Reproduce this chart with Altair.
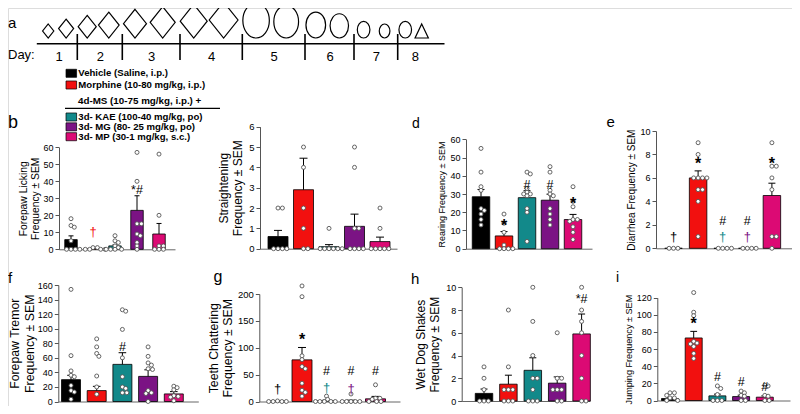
import altair as alt
import numpy as np
import pandas as pd

W, H = 784, 398
M = 8  # page margin: layout numbers below are page pixels, shifted by M
FONT = "Liberation Sans"

# ------------------------------------------------------------------ data
groups = ["Vehicle", "Morphine", "KAE", "MG", "MP"]
group_colors = ["#000000", "#f2100f", "#12898a", "#7b1384", "#dc0a74"]

legend_top = ["Vehicle (Saline, i.p.)", "Morphine (10-80 mg/kg, i.p.)"]
legend_header = "4d-MS (10-75 mg/kg, i.p.) +"
legend_bottom = ["3d- KAE (100-40 mg/kg, po)", "3d- MG (80- 25 mg/kg, po)",
                 "3d- MP (30-1 mg/kg, s.c.)"]

# panel a : dosing schedule
day_numbers = [1, 2, 3, 4, 5, 6, 7, 8]
sched_day = [1, 1, 2, 2, 3, 3, 4, 4, 5, 5, 6, 6, 7, 7, 8, 8]
sched_slot = [0, 1] * 8
sched_kind = ["morphine"] * 8 + ["ms"] * 7 + ["test"]
sched_dose = [10, 20, 30, 40, 50, 60, 70, 80, 75, 65, 40, 35, 15, 10, 15, 10]

# panels b-i : mean, SEM, individual animals, annotations
b_mean = [5.7, 0.3, 2.0, 22.9, 9.0]
b_sem = [2.2, 0.3, 0.6, 8.6, 6.2]
b_points = [[18, 14, 13, 5, 0, 0, 0, 0], [1, 1, 0, 0, 0, 0], [8, 5, 4, 2, 1, 0, 0, 0, 0],
            [57, 40, 15, 15, 9, 8, 4, 2, 0], [56, 20, 2, 2, 0, 0, 0]]
b_sym = ["", "", "", "*#", ""]
b_sym_y = [0, 0, 0, 35, 0]
b_dag = ["", "†", "", "", ""]
b_dag_y = [0, 10, 0, 0, 0]

c_mean = [0.6, 2.9, 0.1, 1.1, 0.35]
c_sem = [0.3, 1.55, 0.1, 0.6, 0.22]
c_points = [[2, 2, 0, 0, 0, 0], [5, 4, 2, 1, 0, 0], [1, 0, 0, 0, 0, 0, 0],
            [5, 4, 1, 1, 0, 0, 0, 0], [2, 1, 0, 0, 0, 0, 0]]

d_mean = [28.5, 7.0, 28.0, 26.6, 16.0]
d_sem = [4.0, 2.4, 3.8, 3.3, 2.8]
d_points = [[55, 42, 34, 32, 22, 21, 19, 16, 13], [19, 14, 9, 2, 0, 0, 0, 0],
            [42, 41, 33, 31, 30, 30, 29, 22, 20, 4], [45, 42, 32, 30, 29, 22, 19, 16, 13],
            [34, 26, 23, 16, 16, 15, 12, 9, 5]]
d_sym = ["", "*", "#", "#", "*"]
d_sym_y = [0, 14.5, 35, 35, 26.5]

e_mean = [0, 6.0, 0, 0, 4.5]
e_sem = [0, 0.6, 0, 0, 1.05]
e_points = [[0, 0, 0], [9, 8, 6, 6, 6, 6, 5, 5, 4, 1], [0, 0, 0, 0], [0, 0, 0, 0],
            [9, 7, 7, 6, 5, 1, 1, 0]]
e_sym = ["", "*", "#", "#", "*"]
e_sym_y = [0, 7.5, 2.35, 2.35, 7.5]
e_dag = ["†", "", "†", "†", ""]
e_dag_y = [0.95, 0, 0.95, 0.95, 0]

f_mean = [30, 15, 51, 34.5, 10.4]
f_sem = [6, 5.8, 16, 9, 3.2]
f_points = [[154, 63, 42, 36, 34, 22, 15, 13, 3], [86, 75, 66, 62, 35, 20, 10],
            [126, 124, 99, 60, 34, 20, 18, 12, 12], [75, 62, 53, 50, 45, 44, 15, 12, 11, 0],
            [21, 19, 16, 8, 7, 6, 1]]
f_sym = ["", "", "#", "", ""]
f_sym_y = [0, 0, 75, 0, 0]

g_mean = [0.5, 77.5, 1.5, 1.0, 5.0]
g_sem = [0.5, 23, 1.0, 1.5, 4.5]
g_points = [[1, 0, 0, 0, 0], [215, 195, 85, 78, 65, 61, 34, 21, 17, 10], [10, 4, 0, 0, 0, 0, 0],
            [14, 0, 0, 0, 0, 0], [31, 6, 6, 4, 0, 0, 0]]
g_sym = ["", "*", "#", "#", "#"]
g_sym_y = [0, 122, 57, 57, 56]
g_dag = ["†", "", "†", "†", ""]
g_dag_y = [23, 0, 25, 23, 0]

h_mean = [0.67, 1.48, 2.7, 1.57, 5.9]
h_sem = [0.38, 0.79, 1.1, 0.55, 1.75]
h_points = [[3, 2, 1, 0, 0, 0], [8, 3, 1, 1, 1, 0, 0, 0], [10, 7, 4, 2, 2, 1, 0, 0, 0],
            [6, 2, 2, 1, 1, 1, 0, 0], [10, 8, 7, 6, 4, 2, 0, 0]]
h_sym = ["", "", "", "", "*#"]
h_sym_y = [0, 0, 0, 0, 8.95]

i_mean = [2.3, 73.0, 5.4, 4.6, 3.9]
i_sem = [1.0, 7.7, 2.0, 1.6, 1.5]
i_points = [[9, 9, 6, 3, 3, 0, 0], [126, 103, 99, 69, 67, 66, 63, 55, 49], [17, 14, 7, 0, 0, 0],
            [11, 9, 6, 5, 0, 0], [18, 17, 6, 5, 0, 0]]
i_sym = ["", "*", "#", "#", "#"]
i_sym_y = [0, 94, 28, 21.5, 16]

EMPTY = ["", "", "", "", ""]
ZERO = [0, 0, 0, 0, 0]

PANELS = {
    "b": dict(title=["Forepaw Licking", "Frequency ± SEM"], mean=b_mean, sem=b_sem, pts=b_points,
              sym=b_sym, sym_y=b_sym_y, dag=b_dag, dag_y=b_dag_y),
    "c": dict(title=["Straightening", "Frequency ± SEM"], mean=c_mean, sem=c_sem, pts=c_points,
              sym=EMPTY, sym_y=ZERO, dag=EMPTY, dag_y=ZERO),
    "d": dict(title="Rearing Frequency ± SEM", mean=d_mean, sem=d_sem, pts=d_points,
              sym=d_sym, sym_y=d_sym_y, dag=EMPTY, dag_y=ZERO),
    "e": dict(title="Diarrhea Frequency ± SEM", mean=e_mean, sem=e_sem, pts=e_points,
              sym=e_sym, sym_y=e_sym_y, dag=e_dag, dag_y=e_dag_y),
    "f": dict(title=["Forepaw Tremor", "Frequency ± SEM"], mean=f_mean, sem=f_sem, pts=f_points,
              sym=f_sym, sym_y=f_sym_y, dag=EMPTY, dag_y=ZERO),
    "g": dict(title=["Teeth Chattering", "Frequency ± SEM"], mean=g_mean, sem=g_sem, pts=g_points,
              sym=g_sym, sym_y=g_sym_y, dag=g_dag, dag_y=g_dag_y),
    "h": dict(title=["Wet Dog Shakes", "Frequency ± SEM"], mean=h_mean, sem=h_sem, pts=h_points,
              sym=h_sym, sym_y=h_sym_y, dag=EMPTY, dag_y=ZERO),
    "i": dict(title="Jumping Frequency ± SEM", mean=i_mean, sem=i_sem, pts=i_points,
              sym=i_sym, sym_y=i_sym_y, dag=EMPTY, dag_y=ZERO),
}

# ------------------------------------------------------------------ layout (page pixels)
LAYOUT = {
    "b": dict(ax=59, c0=71, sp=22, xe=175, bw=12.5, y0=249.3, yt=147.3, ymax=60, step=10, tfs=10.3, lfs=9, tpad=2),
    "c": dict(ax=260, c0=278, sp=25.5, xe=397, bw=20, y0=248.7, yt=126.7, ymax=6, step=1, tfs=12, lfs=9.5, tpad=4),
    "d": dict(ax=466, c0=481, sp=23, xe=592, bw=17.5, y0=248.7, yt=139.3, ymax=60, step=10, tfs=9, lfs=9, tpad=3),
    "e": dict(ax=656, c0=673.5, sp=24.6, xe=795, bw=17.5, y0=248.3, yt=131, ymax=10, step=2, tfs=10, lfs=9, tpad=3),
    "f": dict(ax=58.3, c0=71, sp=25.7, xe=198.3, bw=19, y0=401.5, yt=285, ymax=160, step=20, tfs=12.3, lfs=9, tpad=1),
    "g": dict(ax=259.3, c0=277.5, sp=24.5, xe=400, bw=20, y0=401.5, yt=294, ymax=200, step=50, tfs=12.3, lfs=9.5, tpad=3),
    "h": dict(ax=461.7, c0=484, sp=24.4, xe=590, bw=17.5, y0=401, yt=287.3, ymax=10, step=2, tfs=12, lfs=9, tpad=4),
    "i": dict(ax=657.3, c0=670, sp=23.7, xe=790, bw=17, y0=400.5, yt=297.7, ymax=120, step=20, tfs=9.1, lfs=9, tpad=3),
}

AXIS_STYLE = dict(domainColor="#555", tickColor="#555", labelColor="black", titleColor="black",
                  grid=False, labelFont=FONT, titleFont=FONT, titleFontWeight="normal",
                  domainWidth=1, tickWidth=1)

color_enc = alt.Color("group:N", scale=alt.Scale(domain=groups, range=group_colors), legend=None)


def swarm(vals, ypx, min_d=3.4, step=1.1):
    placed, out = [], []
    for v in vals:
        py = ypx(v)
        found = 0.0
        for k in range(80):
            j = (k + 1) // 2
            dx = 0.0 if k == 0 else (j * step if k % 2 else -j * step)
            if all((dx - qx) ** 2 + (py - qy) ** 2 >= min_d ** 2 for qx, qy in placed):
                found = dx
                break
        placed.append((found, py))
        out.append(found)
    return out


def panel_layers(key):
    P, L = PANELS[key], LAYOUT[key]
    ax = L["ax"] - M
    xe = min(L["xe"] - M, W)
    c0 = L["c0"] - M
    sp = L["sp"]
    y0, yt, ymax = L["y0"] - M, L["yt"] - M, L["ymax"]
    xs = alt.Scale(domain=[(ax - c0) / sp, (xe - c0) / sp], range=[ax, xe], nice=False, zero=False)
    ys = alt.Scale(domain=[0, ymax], range=[y0, yt], nice=False, zero=False)
    half = L["bw"] / sp / 2

    bars = pd.DataFrame({"idx": list(range(5)), "group": groups, "mean": P["mean"], "sem": P["sem"]})
    bars["top"] = bars["mean"] + bars["sem"]
    bars["lo"] = bars["idx"] - half
    bars["hi"] = bars["idx"] + half
    bars["clo"] = bars["idx"] - half * 0.4
    bars["chi"] = bars["idx"] + half * 0.4
    bars["base"] = 0.0

    ticks = [float(v) for v in np.arange(0, ymax + 1e-9, L["step"])]
    yaxis = alt.Axis(orient="left", offset=-ax, values=ticks, title=P["title"], tickSize=4,
                     labelPadding=2, titlePadding=L["tpad"], labelFontSize=L["lfs"],
                     titleFontSize=L["tfs"], **AXIS_STYLE)
    xaxis = alt.Axis(orient="bottom", offset=y0 - H, ticks=False, labels=False, title=None,
                     grid=False, domainColor="#666", domainWidth=1)

    layers = []
    layers.append(alt.Chart(bars).mark_rect(stroke="black", strokeWidth=0.8).encode(
        x=alt.X("lo:Q", scale=xs, axis=xaxis), x2="hi:Q",
        y=alt.Y("mean:Q", scale=ys, axis=yaxis), y2="base:Q", color=color_enc))

    err = bars[bars["sem"] > 0]
    layers.append(alt.Chart(err).mark_rule(color="black", strokeWidth=1).encode(
        x=alt.X("idx:Q", scale=xs, axis=None),
        y=alt.Y("mean:Q", scale=ys, axis=None), y2="top:Q"))
    layers.append(alt.Chart(err).mark_rule(color="black", strokeWidth=1).encode(
        x=alt.X("clo:Q", scale=xs, axis=None), x2="chi:Q",
        y=alt.Y("top:Q", scale=ys, axis=None)))

    def ypx(v):
        return y0 - v / ymax * (y0 - yt)

    rows = []
    for gi, vals in enumerate(P["pts"]):
        offs = swarm(vals, ypx)
        for v, o in zip(vals, offs):
            rows.append({"idx": gi, "value": v, "xj": gi + o / sp})
    pts = pd.DataFrame(rows)
    layers.append(alt.Chart(pts).mark_circle(fill="white", stroke="#555", strokeWidth=0.9,
                                             size=16, opacity=1).encode(
        x=alt.X("xj:Q", scale=xs, axis=None), y=alt.Y("value:Q", scale=ys, axis=None)))

    ann = pd.DataFrame({"idx": list(range(5)), "group": groups, "sym": P["sym"], "sy": P["sym_y"],
                        "dag": P["dag"], "dy": P["dag_y"]})
    star = ann[ann["sym"] == "*"]
    other = ann[(ann["sym"] != "") & (ann["sym"] != "*")]
    dag = ann[ann["dag"] != ""]
    if len(star):
        layers.append(alt.Chart(star).mark_text(font=FONT, fontSize=16, fontWeight="bold",
                                                baseline="middle", align="center", color="black",
                                                dy=4).encode(
            x=alt.X("idx:Q", scale=xs, axis=None), y=alt.Y("sy:Q", scale=ys, axis=None),
            text="sym:N"))
    if len(other):
        layers.append(alt.Chart(other).mark_text(font=FONT, fontSize=12.5, baseline="middle",
                                                 align="center", color="black").encode(
            x=alt.X("idx:Q", scale=xs, axis=None), y=alt.Y("sy:Q", scale=ys, axis=None),
            text="sym:N"))
    if len(dag):
        layers.append(alt.Chart(dag).mark_text(font=FONT, fontSize=13, baseline="middle",
                                               align="center").encode(
            x=alt.X("idx:Q", scale=xs, axis=None), y=alt.Y("dy:Q", scale=ys, axis=None),
            text="dag:N", color=color_enc))
    return layers


# ------------------------------------------------------------------ panel a
TL_DOMAIN = [0.4, 0.5, 1.5, 2.5, 3.5, 4.5, 5.5, 6.5, 7.5, 8.5, 8.85]
TL_RANGE = [v - M for v in [36.3, 40, 77.3, 122.3, 180, 242.3, 305, 354, 397.7, 432, 444]]
tl_scale = alt.Scale(domain=TL_DOMAIN, range=TL_RANGE, nice=False, zero=False)
TL_Y = 43.3 - M

DIAMOND = "M0,-2L0.8,-1L0,0L-0.8,-1Z"
ELLIPSE = "M-0.76,-1A0.76,1,0,1,0,0.76,-1A0.76,1,0,1,0,-0.76,-1Z"
TRIANGLE = "M0,-2L0.95,0L-0.95,0Z"
SQUARE = "M-1,-0.76L1,-0.76L1,0.76L-1,0.76Z"

sched = pd.DataFrame({"day": sched_day, "slot": sched_slot, "kind": sched_kind, "dose": sched_dose})
sched["pos"] = sched["day"] + np.where(sched["slot"] == 0, -0.28, 0.2)

tl_axis = alt.Axis(orient="bottom", offset=TL_Y - H, values=day_numbers, ticks=False, labelPadding=7,
                   labelFontSize=13, labelFont=FONT, labelColor="black", domainColor="black",
                   domainWidth=1.6, title=None, labelFlush=False, grid=False)

shapes = alt.Chart(sched).mark_point(filled=False, stroke="black", strokeWidth=1.2, opacity=1).encode(
    x=alt.X("pos:Q", scale=tl_scale, axis=tl_axis),
    y=alt.value(38 - M),
    shape=alt.Shape("kind:N", scale=alt.Scale(domain=["morphine", "ms", "test"],
                                               range=[DIAMOND, ELLIPSE, TRIANGLE]), legend=None),
    size=alt.Size("dose:Q", scale=alt.Scale(domain=[10, 80], range=[196, 1296]), legend=None))

bounds = pd.DataFrame({"b": [d + 0.5 for d in day_numbers[:-1]]})
day_ticks = alt.Chart(bounds).mark_rule(color="black", strokeWidth=1.6).encode(
    x=alt.X("b:Q", scale=tl_scale, axis=None), y=alt.value(34 - M), y2=alt.value(60 - M))


def text_at(txt, x, y, size, weight="normal", align="left", baseline="alphabetic"):
    return alt.Chart(pd.DataFrame({"t": [txt]})).mark_text(
        font=FONT, fontSize=size, fontWeight=weight, align=align, baseline=baseline,
        color="black").encode(x=alt.value(x), y=alt.value(y), text="t:N")


# ------------------------------------------------------------------ legend
leg_top = pd.DataFrame({"label": legend_top, "group": groups[:2]})
leg_bot = pd.DataFrame({"label": legend_bottom, "group": groups[2:]})


def legend_block(df, domain, rng):
    ysc = alt.Y("label:N", scale=alt.Scale(domain=domain, range=rng, padding=0), axis=None)
    sq = alt.Chart(df).mark_point(shape=SQUARE, filled=True, size=112, stroke="black",
                                  strokeWidth=0.7, opacity=1).encode(
        x=alt.value(71.3 - M), y=ysc, color=color_enc)
    tx = alt.Chart(df).mark_text(font=FONT, fontSize=9.6, fontWeight="bold", align="left",
                                 baseline="middle", color="black").encode(
        x=alt.value(78.3 - M), y=ysc, text="label:N")
    return [sq, tx]


header = text_at(legend_header, 78 - M, 100.5 - M, 9.8, weight="bold", baseline="middle")
header_line = alt.Chart(pd.DataFrame({"t": [legend_header]})).mark_rule(
    color="black", strokeWidth=1.3).encode(
    x=alt.value(65 - M), x2=alt.value(220 - M), y=alt.value(108.3 - M))

letters = [
    text_at("a", 0, 28.3 - M, 15), text_at("b", 0, 128.3 - M, 18),
    text_at("d", 412 - M, 128.3 - M, 14), text_at("e", 606.5 - M, 127 - M, 15),
    text_at("f", 0, 282.7 - M, 15), text_at("g", 213.5 - M, 282 - M, 16),
    text_at("h", 411 - M, 284.3 - M, 15), text_at("i", 616 - M, 281.7 - M, 14),
    text_at("Day:", 0, 59 - M, 13),
]

layers = [day_ticks, shapes]
layers += legend_block(leg_top, legend_top, [73.3 - M, 85 - M])
layers += [header, header_line]
layers += legend_block(leg_bot, legend_bottom, [117 - M, 136.7 - M])
for k in ["b", "c", "d", "e", "f", "g", "h", "i"]:
    layers += panel_layers(k)
layers += letters

chart = alt.layer(*layers).resolve_scale(
    x="independent", y="independent", color="independent", shape="independent", size="independent"
).resolve_axis(x="independent", y="independent").properties(
    width=W, height=H, padding=0, autosize=alt.AutoSizeParams(type="none")
).configure_view(stroke=None).configure(font=FONT)

chart.save("out.html", embed_options={"renderer": "svg", "actions": False})
